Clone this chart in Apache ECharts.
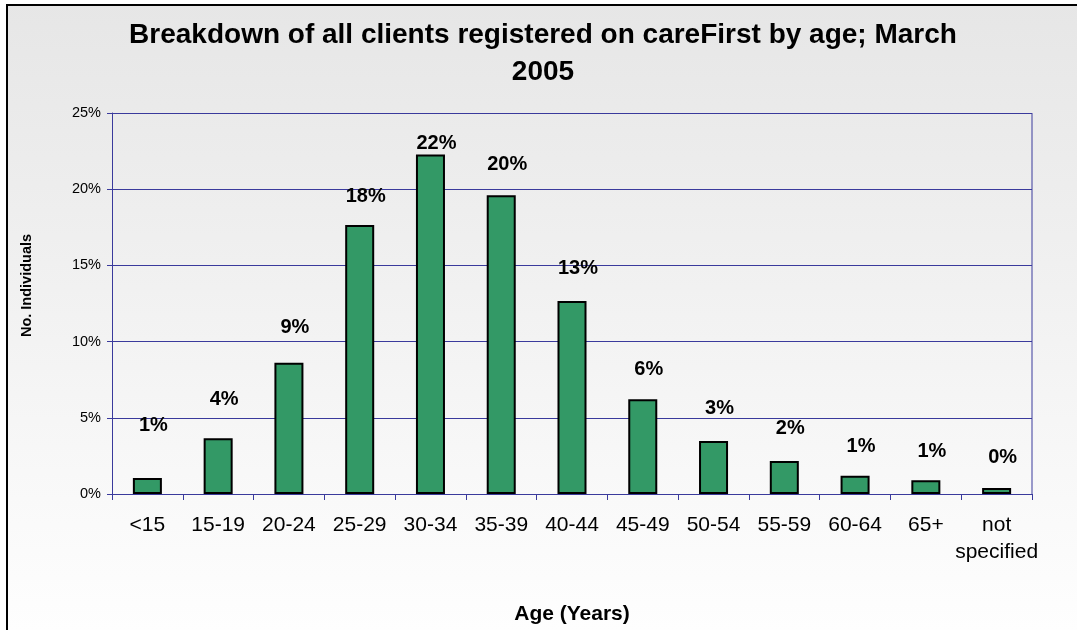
<!DOCTYPE html>
<html>
<head>
<meta charset="utf-8">
<script src="https://cdn.jsdelivr.net/npm/echarts@6/dist/echarts.min.js"></script>
<style>
  html, body { margin: 0; padding: 0; background: #ffffff; }
  #chart { width: 1077px; height: 630px; }
</style>
</head>
<body>
<div id="chart"></div>
<script>
// Client age bands and their share of all registered clients (%)
const ageBands = ['<15', '15-19', '20-24', '25-29', '30-34', '35-39', '40-44',
                  '45-49', '50-54', '55-59', '60-64', '65+', 'not specified'];
const sharePct = [1.05, 3.65, 8.62, 17.65, 22.27, 19.6, 12.66, 6.22, 3.47, 2.16, 1.2, 0.9, 0.4];
const yTicks = [0, 5, 10, 15, 20, 25];

// Vertical spacing between each bar top and its value label
const labelGap = [43, 29, 25, 19, 1, 21, 23, 20, 23, 23, 19, 19, 20];

const FONT = '"Liberation Sans", Arial, sans-serif';
const NAVY = '#3a3a9c';

const chart = echarts.init(document.getElementById('chart'), null, { renderer: 'canvas' });

chart.setOption({
  animation: false,
  backgroundColor: '#ffffff',
  graphic: [{
    type: 'rect',
    z: -10,
    silent: true,
    shape: { x: 7, y: 5, width: 1200, height: 800 },
    style: {
      fill: {
        type: 'linear', x: 0, y: 0, x2: 0, y2: 630, global: true,
        colorStops: [
          { offset: 0, color: '#e6e6e6' },
          { offset: 1, color: '#fefefe' }
        ]
      },
      stroke: '#000000',
      lineWidth: 2
    }
  }],
  title: {
    text: 'Breakdown of all clients registered on careFirst by age; March\n2005',
    left: 538,
    textAlign: 'center',
    top: 12,
    textStyle: {
      fontFamily: FONT,
      fontWeight: 'bold',
      fontSize: 28,
      lineHeight: 37,
      color: '#000000'
    }
  },
  grid: { left: 112, right: 45, top: 113, bottom: 136, containLabel: false, outerBoundsMode: 'none' },
  xAxis: {
    type: 'category',
    data: ageBands,
    name: 'Age (Years)',
    nameLocation: 'middle',
    nameGap: 110,
    nameTextStyle: { fontFamily: FONT, fontWeight: 'bold', fontSize: 21, color: '#000000' },
    axisLine: { lineStyle: { color: NAVY, width: 1 } },
    axisTick: { show: true, alignWithLabel: false, length: 6, lineStyle: { color: NAVY } },
    axisLabel: {
      interval: 0,
      margin: 18,
      fontFamily: FONT,
      fontSize: 21,
      lineHeight: 27,
      color: '#000000',
      formatter: v => v.replace(' ', '\n')
    }
  },
  yAxis: {
    type: 'value',
    min: yTicks[0],
    max: yTicks[yTicks.length - 1],
    interval: 5,
    name: 'No. Individuals',
    nameLocation: 'middle',
    nameGap: 78,
    nameTextStyle: { fontFamily: FONT, fontWeight: 'bold', fontSize: 14.5, color: '#000000', padding: [0, 0, 0, 36] },
    axisLine: { show: true, lineStyle: { color: NAVY, width: 1 } },
    axisTick: { show: true, length: 5, lineStyle: { color: NAVY } },
    axisLabel: {
      margin: 11,
      fontFamily: FONT,
      fontSize: 14.5,
      color: '#000000',
      formatter: '{value}%'
    },
    splitLine: { show: true, lineStyle: { color: NAVY, width: 1 } }
  },
  series: [{
    type: 'bar',
    data: sharePct.map((v, i) => ({
      value: v,
      label: { distance: labelGap[i] }
    })),
    barWidth: '41%',
    itemStyle: { color: '#339966', borderColor: '#000000', borderWidth: 2 },
    label: {
      show: true,
      position: 'top',
      offset: [6, 0],
      fontFamily: FONT,
      fontWeight: 'bold',
      fontSize: 20,
      color: '#000000',
      formatter: p => Math.round(p.value) + '%'
    }
  }]
});

// Right edge of the plot frame
chart.setOption({
  graphic: [{}, {
    type: 'line',
    silent: true,
    z: 5,
    shape: (function () {
      const top = chart.convertToPixel({ yAxisIndex: 0 }, yTicks[yTicks.length - 1]);
      const bottom = chart.convertToPixel({ yAxisIndex: 0 }, 0);
      const x = chart.getWidth() - 45;
      return { x1: x, y1: top, x2: x, y2: bottom };
    })(),
    style: { stroke: NAVY, lineWidth: 1 }
  }]
});
</script>
</body>
</html>
